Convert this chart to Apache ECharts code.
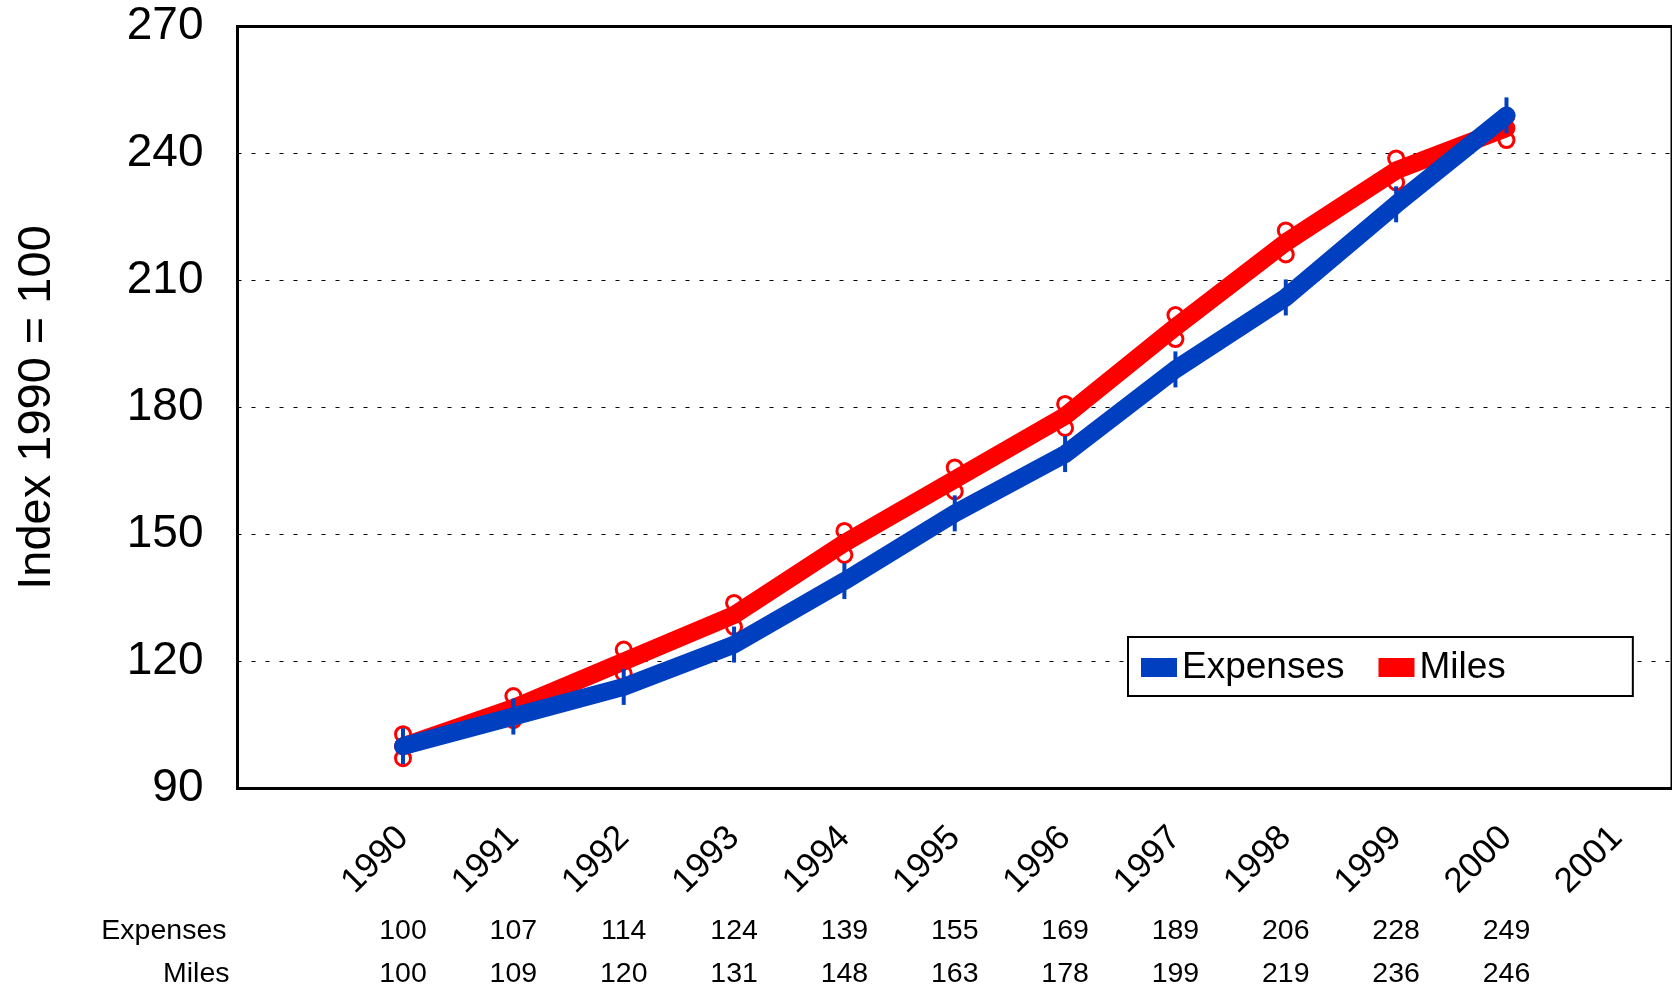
<!DOCTYPE html>
<html>
<head>
<meta charset="utf-8">
<script src="https://cdn.jsdelivr.net/npm/echarts@6/dist/echarts.min.js"></script>
<style>
html,body{margin:0;padding:0;background:#fff;}
#chart{width:1672px;height:989px;}
</style>
</head>
<body>
<div id="chart"></div>
<script>
var categories = ['', '1990', '1991', '1992', '1993', '1994', '1995', '1996', '1997', '1998', '1999', '2000', '2001'];
var expenses = [100, 107, 114, 124, 139, 155, 169, 189, 206, 228, 249];
var miles = [100, 109, 120, 131, 148, 163, 178, 199, 219, 236, 246];
var yTicks = {min: 90, max: 270, interval: 30};

function seriesData(vals) {
  return categories.map(function (c, i) {
    return (i >= 1 && i - 1 < vals.length) ? vals[i - 1] : null;
  });
}
function tableFormatter(vals) {
  return function (v, i) {
    return (i >= 1 && i - 1 < vals.length) ? String(vals[i - 1]) : '';
  };
}

var FONT = 'Liberation Sans';
var BLUE = '#0040C0';
var RED = '#FF0000';

// double-ring marker (ring above and below the point)
var RING_MARK = 'path://' +
  'M0,9A9,9 0 1,1 18,9A9,9 0 1,1 0,9Z' +
  'M3,9A6,6 0 1,0 15,9A6,6 0 1,0 3,9Z' +
  'M0,33A9,9 0 1,1 18,33A9,9 0 1,1 0,33Z' +
  'M3,33A6,6 0 1,0 15,33A6,6 0 1,0 3,33Z';

var chart = echarts.init(document.getElementById('chart'));
chart.setOption({
  animation: false,
  backgroundColor: '#fff',
  textStyle: {fontFamily: FONT, color: '#000'},
  grid: {
    left: 237.5, top: 26.5, right: -4, bottom: 199,
    show: true, borderColor: '#000', borderWidth: 3, backgroundColor: 'transparent'
  },
  legend: {
    left: 1128, top: 637,
    orient: 'horizontal',
    padding: [12, 127, 10, 13],
    borderColor: '#000', borderWidth: 2,
    backgroundColor: '#fff',
    itemWidth: 36, itemHeight: 19, itemGap: 34,
    textStyle: {fontFamily: FONT, fontSize: 37, color: '#000'},
    data: [
      {name: 'Expenses', icon: 'rect', itemStyle: {color: BLUE, borderWidth: 0}},
      {name: 'Miles', icon: 'rect', itemStyle: {color: RED, borderWidth: 0}}
    ]
  },
  xAxis: [
    {
      type: 'category', data: categories, boundaryGap: true,
      axisLine: {show: false}, axisTick: {show: false},
      axisLabel: {rotate: 45, interval: 0, fontSize: 35, margin: 44, color: '#000', fontFamily: FONT},
      splitLine: {show: false}
    },
    {
      type: 'category', data: categories, position: 'bottom', offset: 143,
      axisLine: {show: false}, axisTick: {show: false},
      axisLabel: {interval: 0, fontSize: 28.5, margin: 0, verticalAlign: 'middle', color: '#000', fontFamily: FONT,
        formatter: tableFormatter(expenses)},
      name: 'Expenses', nameLocation: 'start', nameGap: 11,
      nameTextStyle: {fontSize: 28.5, color: '#000', fontFamily: FONT}
    },
    {
      type: 'category', data: categories, position: 'bottom', offset: 186,
      axisLine: {show: false}, axisTick: {show: false},
      axisLabel: {interval: 0, fontSize: 28.5, margin: 0, verticalAlign: 'middle', color: '#000', fontFamily: FONT,
        formatter: tableFormatter(miles)},
      name: 'Miles', nameLocation: 'start', nameGap: 8,
      nameTextStyle: {fontSize: 28.5, color: '#000', fontFamily: FONT}
    }
  ],
  yAxis: {
    type: 'value', min: yTicks.min, max: yTicks.max, interval: yTicks.interval,
    axisLine: {show: false}, axisTick: {show: false},
    axisLabel: {fontSize: 46, margin: 34, color: '#000', fontFamily: FONT},
    splitLine: {show: true, lineStyle: {color: '#000', width: 1, type: [4, 10]}},
    name: 'Index 1990 = 100', nameLocation: 'middle', nameGap: 177,
    nameTextStyle: {fontSize: 47, color: '#000', fontFamily: FONT}
  },
  series: [
    {
      name: 'Miles', type: 'line', data: seriesData(miles),
      lineStyle: {color: RED, width: 18, cap: 'round', join: 'round'},
      symbol: RING_MARK, symbolSize: [18, 42], showAllSymbol: true,
      itemStyle: {color: RED},
      emphasis: {disabled: true}, z: 2
    },
    {
      name: 'Expenses', type: 'line', data: seriesData(expenses),
      lineStyle: {color: BLUE, width: 18, cap: 'round', join: 'round'},
      symbol: 'path://M0,0H1V10H0Z', symbolSize: [4, 36], showAllSymbol: true,
      itemStyle: {color: BLUE},
      emphasis: {disabled: true}, z: 3
    }
  ]
});
</script>
</body>
</html>
